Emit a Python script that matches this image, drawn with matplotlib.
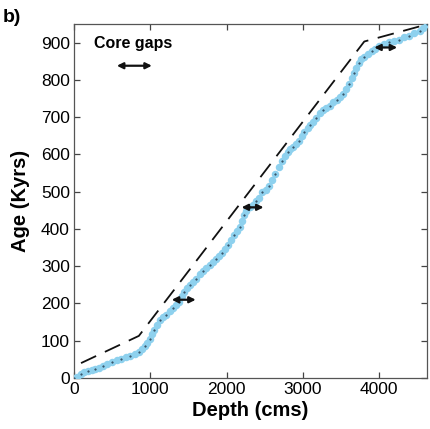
import matplotlib
matplotlib.use("Agg")
import matplotlib.pyplot as plt

plt.rcParams['font.family'] = ['Liberation Sans', 'DejaVu Sans']

# Age model samples (depth in cm, age in kyr)
depth = [0, 40, 90, 130, 180, 230, 280, 330, 380, 430, 500, 560, 620, 680, 740,
         800, 850, 890, 930, 960, 990, 1020, 1050, 1090, 1130, 1170, 1210, 1260,
         1300, 1340, 1380, 1410, 1440, 1480, 1520, 1560, 1600, 1650, 1690, 1730,
         1780, 1820, 1860, 1900, 1940, 1980, 2020, 2060, 2100, 2140, 2170, 2200,
         2230, 2260, 2300, 2340, 2390, 2430, 2470, 2510, 2560, 2600, 2640, 2690,
         2730, 2770, 2800, 2830, 2870, 2910, 2950, 2990, 3020, 3060, 3090, 3130,
         3170, 3220, 3260, 3300, 3350, 3400, 3450, 3490, 3530, 3570, 3610, 3640,
         3670, 3700, 3730, 3760, 3800, 3850, 3900, 3950, 4000, 4060, 4130, 4200,
         4260, 4320, 4390, 4460, 4530, 4580, 4620]
age = [0, 4, 10, 15, 19, 22, 25, 28, 32, 37, 43, 47, 51, 56, 60,
       65, 70, 77, 86, 95, 106, 118, 130, 143, 155, 163, 170, 180,
       188, 196, 205, 220, 232, 242, 250, 258, 266, 278, 288, 295,
       303, 312, 320, 328, 336, 345, 356, 370, 383, 395, 405, 422,
       438, 448, 458, 465, 474, 484, 498, 505, 515, 532, 548, 566,
       582, 597, 606, 614, 620, 628, 636, 650, 660, 670, 678, 688,
       699, 710, 718, 724, 730, 740, 747, 753, 762, 775, 790, 805,
       818, 832, 845, 855, 862, 870, 878, 884, 890, 896, 903, 905,
       907, 914, 919, 925, 931, 940, 950]

# Dashed reference line vertices
ref_depth = [92, 850, 3804, 4627]
ref_age = [40, 113, 903, 949]

# Core gaps (start depth, end depth, age level)
gap_start = [1281, 2196, 3935]
gap_end = [1595, 2484, 4235]
gap_age = [210, 458, 887]

fig = plt.figure(figsize=(4.30, 4.29), dpi=100)
ax = fig.add_axes([74/430, 51/429, 353/430, 354/429])

dash_lw = 1.3
ax.plot(ref_depth, ref_age, color='#111111', lw=dash_lw,
        linestyle=(0, (12/dash_lw, 7/dash_lw)), zorder=2)

ax.plot(depth, age, 'o', color='#8ED1EE', markersize=5.4, markeredgewidth=0,
        zorder=3)
ax.plot(depth[::2], age[::2], '.', color='#24384a', markersize=1.0, zorder=4)

arrow_kw = dict(arrowstyle='<|-|>', color='#111111', lw=1.6,
                mutation_scale=9, shrinkA=0, shrinkB=0)
for s, e, a in zip(gap_start, gap_end, gap_age):
    ax.annotate('', xy=(e, a), xytext=(s, a), arrowprops=arrow_kw, zorder=5)

ax.annotate('', xy=(1020, 838), xytext=(562, 838), arrowprops=arrow_kw)
ax.text(260, 897, 'Core gaps', fontsize=11.5, fontweight='bold',
        ha='left', va='center')

ax.set_xlim(0, 4626)
ax.set_ylim(0, 950)
ax.set_xticks([0, 1000, 2000, 3000, 4000])
ax.set_yticks(range(0, 901, 100))
ax.tick_params(direction='in', length=4, width=0.9, colors='#444444',
               labelcolor='black', labelsize=12.5, top=True, right=True, pad=3)
for sp in ax.spines.values():
    sp.set_color('#555555')
    sp.set_linewidth(0.9)

ax.set_xlabel('Depth (cms)', fontsize=14.5, fontweight='bold', labelpad=3)
ax.set_ylabel('Age (Kyrs)', fontsize=14.5, fontweight='bold', labelpad=8)

fig.text(3/430, 1 - 17/429, 'b)', fontsize=14, fontweight='bold',
         ha='left', va='center')

fig.savefig('out.png', dpi=100)
